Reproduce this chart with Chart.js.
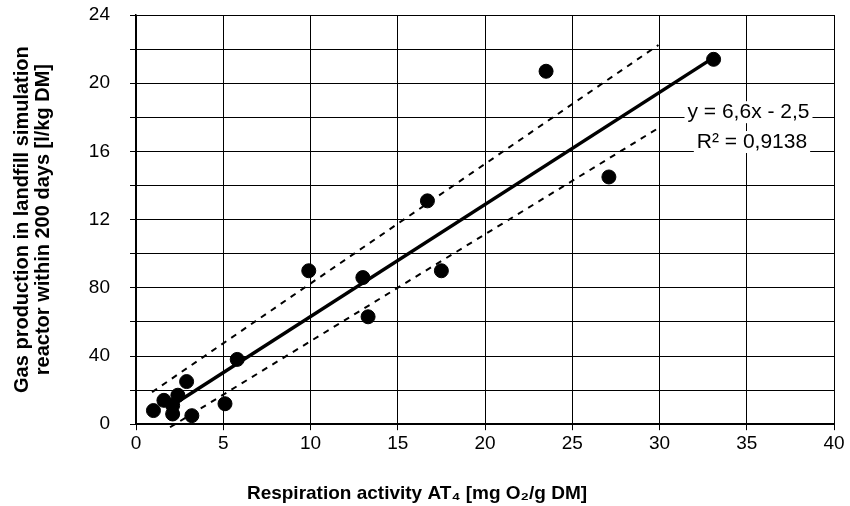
<!DOCTYPE html>
<html>
<head>
<meta charset="utf-8">
<script src="https://cdn.jsdelivr.net/npm/chart.js@4.4.1/dist/chart.umd.min.js"></script>
<style>
  html, body { margin: 0; padding: 0; background: #fff; }
  #wrap { width: 850px; height: 506px; }
</style>
</head>
<body>
<div id="wrap"><canvas id="chart"></canvas></div>
<script>
// measured points
const respirationAT4 = [1.0, 1.6, 2.1, 2.1, 2.4, 2.9, 3.2, 5.1, 5.8, 9.9, 13.0, 13.3, 16.7, 17.5, 23.5, 27.1, 33.1];
const gasProduction = [0.8, 1.4, 1.1, 0.6, 1.7, 2.5, 0.5, 1.2, 3.8, 9.0, 8.6, 6.3, 13.1, 9.0, 20.7, 14.5, 21.4];

// regression line and dashed bands (end points)
const fitX = [2.0, 33.1];
const fitY = [1.05, 21.5];
const upperX = [0.92, 29.94];
const upperY = [1.88, 22.24];
const lowerX = [1.95, 29.94];
const lowerY = [-0.18, 17.37];

// y tick labels as printed
const yTickValues = [0, 4, 8, 12, 16, 20, 24];
const yTickLabels = ["0", "40", "80", "12", "16", "20", "24"];

const equationText = "y = 6,6x - 2,5";
const r2Text = "R\u00B2 = 0,9138";

const FONT = "'Liberation Sans', Arial, sans-serif";

function toPoints(xs, ys) {
  return xs.map((x, i) => ({ x: x, y: ys[i] }));
}

const annotationPlugin = {
  id: "equation",
  afterDatasetsDraw(chart) {
    const ctx = chart.ctx;
    const xs = chart.scales.x;
    const ys = chart.scales.y;
    const lines = [
      { text: equationText, x: 35.1, y: 18.3 },
      { text: r2Text, x: 35.3, y: 16.55 }
    ];
    ctx.save();
    ctx.font = "21px " + FONT;
    ctx.textAlign = "center";
    ctx.textBaseline = "middle";
    lines.forEach(l => {
      const px = xs.getPixelForValue(l.x);
      const py = ys.getPixelForValue(l.y);
      const w = ctx.measureText(l.text).width;
      ctx.fillStyle = "#fff";
      ctx.fillRect(px - w / 2 - 3, py - 11, w + 6, 22);
      ctx.fillStyle = "#000";
      ctx.fillText(l.text, px, py);
    });
    ctx.restore();
  }
};

const ctx = document.getElementById("chart").getContext("2d");

new Chart(ctx, {
  type: "scatter",
  data: {
    datasets: [
      {
        label: "upper",
        type: "line",
        data: toPoints(upperX, upperY),
        borderColor: "#000",
        borderWidth: 2,
        borderDash: [6, 6],
        pointRadius: 0,
        clip: false,
        fill: false
      },
      {
        label: "lower",
        type: "line",
        data: toPoints(lowerX, lowerY),
        borderColor: "#000",
        borderWidth: 2,
        borderDash: [6, 6],
        pointRadius: 0,
        clip: false,
        fill: false
      },
      {
        label: "fit",
        type: "line",
        data: toPoints(fitX, fitY),
        borderColor: "#000",
        borderWidth: 3.5,
        pointRadius: 0,
        fill: false
      },
      {
        label: "data",
        data: toPoints(respirationAT4, gasProduction),
        backgroundColor: "#000",
        borderColor: "#000",
        pointRadius: 7,
        clip: false
      }
    ]
  },
  options: {
    responsive: true,
    maintainAspectRatio: false,
    animation: false,
    layout: { autoPadding: false, padding: { top: 15, right: 16, left: 0, bottom: 0 } },
    plugins: {
      legend: { display: false },
      tooltip: { enabled: false },
      title: {
        display: true,
        position: "bottom",
        text: "Respiration activity AT\u2084 [mg O\u2082/g DM]",
        color: "#000",
        font: { family: FONT, size: 19, weight: "bold" },
        padding: { top: 6, bottom: 1 }
      }
    },
    scales: {
      x: {
        type: "linear",
        min: 0,
        max: 40,
        ticks: {
          stepSize: 5,
          color: "#000",
          padding: 2,
          font: { family: FONT, size: 19 }
        },
        grid: { color: "#000", lineWidth: 1, tickLength: 6 },
        border: { color: "#000", width: 2 },
        afterFit(scale) { scale.height = 52; }
      },
      y: {
        type: "linear",
        min: 0,
        max: 24,
        afterBuildTicks(scale) {
          scale.ticks = [];
          for (let v = 0; v <= 24; v += 2) scale.ticks.push({ value: v });
        },
        ticks: {
          color: "#000",
          padding: 20,
          font: { family: FONT, size: 19 },
          callback(value) {
            const i = yTickValues.indexOf(value);
            return i >= 0 ? yTickLabels[i] : "";
          }
        },
        grid: { color: "#000", lineWidth: 1, tickLength: 6 },
        border: { color: "#000", width: 1.5 },
        title: {
          display: true,
          text: ["Gas production in landfill simulation", "reactor within 200 days [l/kg DM]"],
          color: "#000",
          font: { family: FONT, size: 20, weight: "bold", lineHeight: 1.05 },
          padding: { top: 12, bottom: 0 }
        },
        afterFit(scale) {
          scale.width = 136;
          scale.paddingTop = 0;
          scale.paddingBottom = 0;
        }
      }
    }
  },
  plugins: [annotationPlugin]
});
</script>
</body>
</html>
